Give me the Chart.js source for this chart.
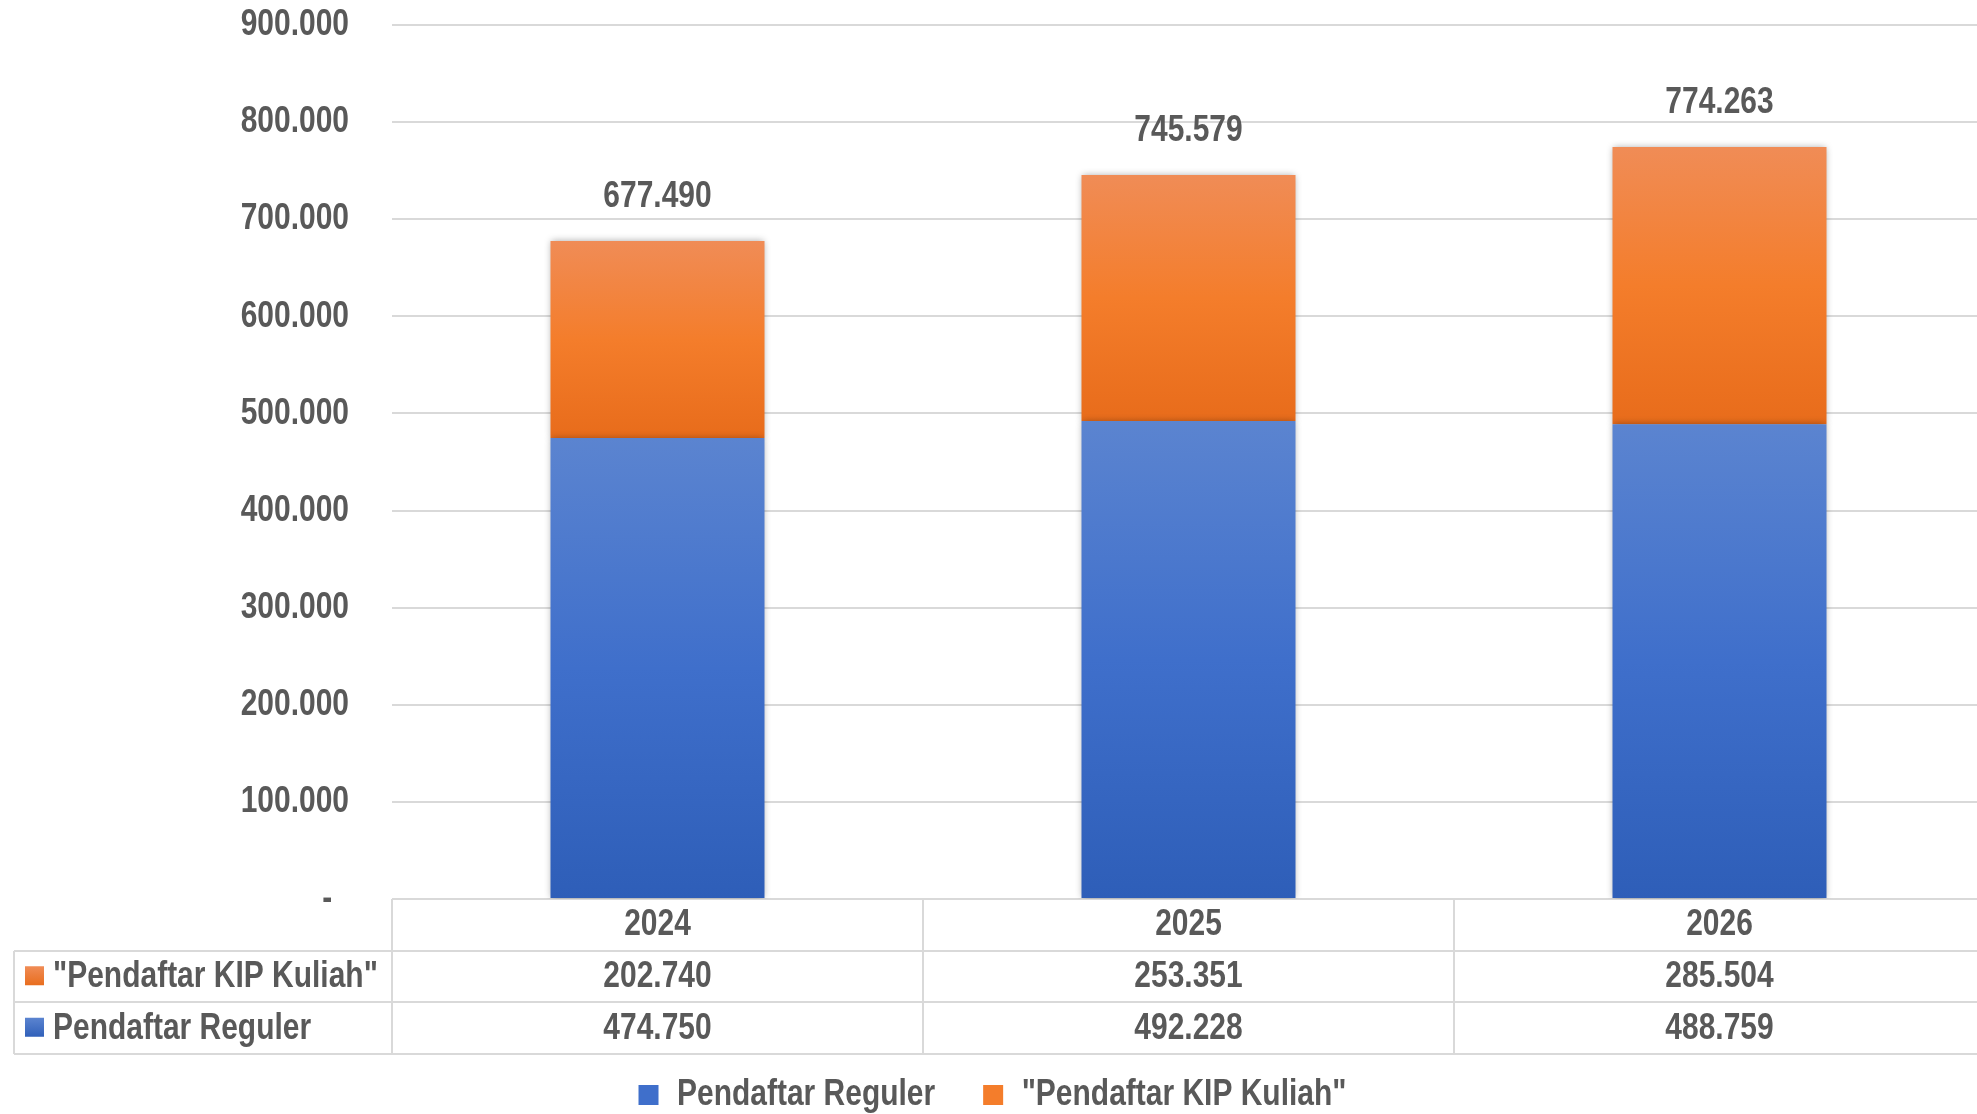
<!DOCTYPE html>
<html><head><meta charset="utf-8">
<script src="https://cdn.jsdelivr.net/npm/chart.js@4"></script>
<style>html,body{margin:0;padding:0;background:#fff;overflow:hidden}#wrap{width:1977px;height:1114px;overflow:hidden}</style>
</head><body><div id="wrap"><canvas id="c" width="1985" height="1114"></canvas></div>
<script>
// ---- data ----
const categories = ['2024', '2025', '2026'];
const seriesNames = ['Pendaftar Reguler', '"Pendaftar KIP Kuliah"'];
const reguler = [474750, 492228, 488759];
const kip = [202740, 253351, 285504];
const yMax = 900000;
const yStep = 100000;

// ---- style ----
const FONT = "'Liberation Sans', Arial, sans-serif";
const FS = 37;
const ROW_H = 51.5;
const TXT = '#595959';
const GRID = '#d9d9d9';
const blueTop = '#5b84d0', blueMid = '#3f6fcb', blueBot = '#2e5eb8';
const orTop = '#f08c56', orMid = '#f47d2b', orBot = '#e86c1b';

// narrow (condensed) rendering of the bold sans text, like Arial Narrow
const SQ = 0.81;
(function () {
  const p = CanvasRenderingContext2D.prototype;
  const oFill = p.fillText, oMeasure = p.measureText;
  p.measureText = function (t) {
    const m = oMeasure.call(this, t);
    return {
      width: m.width * SQ,
      actualBoundingBoxLeft: m.actualBoundingBoxLeft * SQ,
      actualBoundingBoxRight: m.actualBoundingBoxRight * SQ,
      actualBoundingBoxAscent: m.actualBoundingBoxAscent,
      actualBoundingBoxDescent: m.actualBoundingBoxDescent,
      fontBoundingBoxAscent: m.fontBoundingBoxAscent,
      fontBoundingBoxDescent: m.fontBoundingBoxDescent
    };
  };
  p.fillText = function (t, x, y, mw) {
    const w = oMeasure.call(this, String(t)).width * SQ;
    const lim = (mw !== undefined && mw !== null && mw < w) ? mw : w;
    if (lim <= 0) return;
    return oFill.call(this, t, x, y, lim);
  };
})();

function fmt(v) { return String(Math.round(v)).replace(/\B(?=(\d{3})+(?!\d))/g, '.'); }

function grad(ctx, yTop, yBot, stops) {
  const g = ctx.createLinearGradient(0, yTop, 0, yBot);
  stops.forEach((c, i) => g.addColorStop(i / (stops.length - 1), c));
  return g;
}

function barFill(context, dsIndex) {
  const chart = context.chart;
  if (!chart.chartArea || context.dataIndex === undefined) return dsIndex === 0 ? blueMid : orMid;
  const y = chart.scales.y;
  const i = context.dataIndex;
  const base = dsIndex === 0 ? 0 : reguler[i];
  const top = dsIndex === 0 ? reguler[i] : reguler[i] + kip[i];
  const yT = y.getPixelForValue(top), yB = y.getPixelForValue(base);
  return dsIndex === 0 ? grad(chart.ctx, yT, yB, [blueTop, blueMid, blueBot])
                       : grad(chart.ctx, yT, yB, [orTop, orMid, orBot]);
}

const shadowPlugin = {
  id: 'barShadow',
  beforeDatasetDraw(chart) { const c = chart.ctx; c.save(); c.shadowColor = 'rgba(0,0,0,0.35)'; c.shadowBlur = 7; },
  afterDatasetDraw(chart) { chart.ctx.restore(); }
};

const totalsPlugin = {
  id: 'totals',
  afterDatasetsDraw(chart) {
    const {ctx, scales: {x, y}} = chart;
    ctx.save();
    ctx.font = `bold ${FS}px ${FONT}`;
    ctx.fillStyle = TXT; ctx.textAlign = 'center'; ctx.textBaseline = 'middle';
    categories.forEach((c, i) => {
      const t = reguler[i] + kip[i];
      ctx.fillText(fmt(t), x.getPixelForValue(i), y.getPixelForValue(t) - 44);
    });
    ctx.restore();
  }
};

// data table under the axis: rows "KIP Kuliah" and "Reguler"
const tableRows = [
  {name: seriesNames[1], values: kip, stops: [orTop, orBot]},
  {name: seriesNames[0], values: reguler, stops: [blueTop, blueBot]}
];

const tablePlugin = {
  id: 'dataTable',
  afterDraw(chart) {
    const {ctx, chartArea, scales: {x}} = chart;
    const top = chartArea.bottom;
    const half = (x.getPixelForValue(1) - x.getPixelForValue(0)) / 2;
    const leftX = 14;
    ctx.save();
    ctx.strokeStyle = GRID; ctx.lineWidth = 2;
    const line = (a, b, c, d) => { ctx.beginPath(); ctx.moveTo(a, b); ctx.lineTo(c, d); ctx.stroke(); };
    for (let k = 1; k <= 3; k++) { const yy = Math.round(top + ROW_H * k); line(leftX, yy, chart.width, yy); }
    line(leftX, Math.round(top + ROW_H), leftX, Math.round(top + 3 * ROW_H));
    categories.forEach((c, i) => {
      const xl = Math.round(x.getPixelForValue(i) - half);
      line(xl, top, xl, Math.round(top + 3 * ROW_H));
    });
    ctx.font = `bold ${FS}px ${FONT}`;
    ctx.textBaseline = 'middle';
    tableRows.forEach((r, k) => {
      const cy = top + ROW_H * (k + 1.5);
      ctx.fillStyle = grad(ctx, cy - 10, cy + 10, r.stops);
      ctx.fillRect(25, cy - 10, 19, 19);
      ctx.fillStyle = TXT;
      ctx.textAlign = 'left';
      ctx.fillText(r.name, 53, cy + 1);
      ctx.textAlign = 'center';
      r.values.forEach((v, i) => ctx.fillText(fmt(v), x.getPixelForValue(i), cy + 1));
    });
    ctx.restore();
  }
};

Chart.defaults.font.family = FONT;
Chart.defaults.font.size = FS;
Chart.defaults.font.weight = 'bold';
Chart.defaults.color = TXT;

new Chart(document.getElementById('c'), {
  type: 'bar',
  data: {
    labels: categories,
    datasets: [
      {label: seriesNames[0], data: reguler, backgroundColor: (c) => barFill(c, 0), borderWidth: 0,
       categoryPercentage: 1, barPercentage: 0.403},
      {label: seriesNames[1], data: kip, backgroundColor: (c) => barFill(c, 1), borderWidth: 0,
       categoryPercentage: 1, barPercentage: 0.403}
    ]
  },
  options: {
    responsive: false,
    devicePixelRatio: 1,
    animation: false,
    layout: {padding: {top: 25, left: 0, right: 0, bottom: -9.5}},
    plugins: {
      tooltip: {enabled: false},
      legend: {
        position: 'bottom',
        labels: {
          boxWidth: 20, boxHeight: 20, padding: 48,
          font: {size: FS, weight: 'bold', family: FONT},
          generateLabels(chart) {
            const items = Chart.defaults.plugins.legend.labels.generateLabels(chart);
            const cols = [blueMid, orMid];
            items.forEach((it, i) => { it.fillStyle = cols[i]; it.strokeStyle = cols[i]; it.lineWidth = 0; });
            return items;
          }
        }
      }
    },
    scales: {
      x: {
        stacked: true,
        grid: {display: false, drawTicks: false},
        border: {display: false},
        ticks: {padding: 0, maxRotation: 0, autoSkip: false, font: {size: FS, weight: 'bold', lineHeight: ROW_H / FS}},
        afterFit(s) { s.height = 129.5; }
      },
      y: {
        stacked: true,
        min: 0, max: yMax,
        grid: {color: GRID, lineWidth: 2, drawTicks: true, tickLength: 43, tickColor: 'rgba(0,0,0,0)'},
        border: {display: false},
        ticks: {stepSize: yStep, padding: 0, callback: (v) => v === 0 ? '-  ' : fmt(v)},
        afterFit(s) { s.width = 392; }
      }
    }
  },
  plugins: [shadowPlugin, totalsPlugin, tablePlugin]
});
</script></body></html>
